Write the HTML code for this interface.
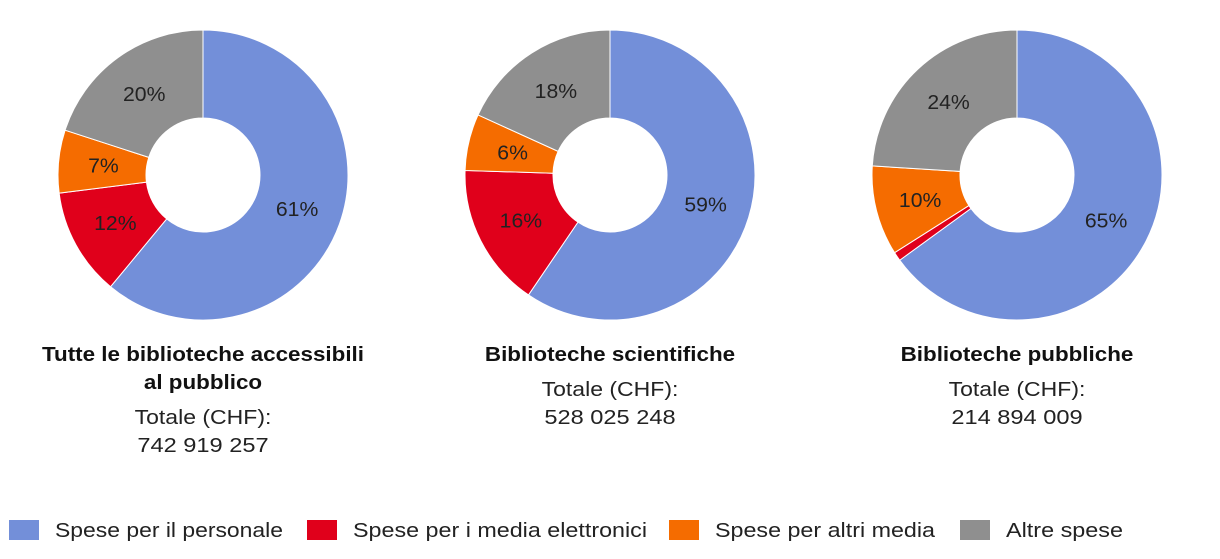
<!DOCTYPE html>
<html><head><meta charset="utf-8">
<style>
body{margin:0;width:1220px;height:554px;background:#fff;overflow:hidden;font-family:"Liberation Sans",sans-serif;}
svg text{font-family:"Liberation Sans",sans-serif;}
</style></head>
<body>
<svg id="chart" width="1220" height="554" xmlns="http://www.w3.org/2000/svg"></svg>
<script>
const categories = ["Spese per il personale","Spese per i media elettronici","Spese per altri media","Altre spese"];
const colors = ["#738fd9","#e0001b","#f56c00","#8f8f8f"];
const seriesAll = [61,12,7,20];
const seriesSci = [59.5,16,6.3,18.2];
const seriesPub = [65,1,10,24];
const labelsAll = ["61%","12%","7%","20%"];
const labelsSci = ["59%","16%","6%","18%"];
const labelsPub = ["65%","","10%","24%"];
const titles = [["Tutte le biblioteche accessibili","al pubblico"],["Biblioteche scientifiche"],["Biblioteche pubbliche"]];
const totals = ["742 919 257","528 025 248","214 894 009"];

const NS="http://www.w3.org/2000/svg";
const svg=document.getElementById('chart');
function mk(t,a){const e=document.createElementNS(NS,t);for(const k in a)e.setAttribute(k,a[k]);svg.appendChild(e);return e;}
function widen(t,f){const w=t.getComputedTextLength();t.setAttribute('textLength',w*f);t.setAttribute('lengthAdjust','spacingAndGlyphs');}
const centersX=[203,610,1017], cy=175, R=145, r=57, LR=100;
function pt(cx,ang,rad){return [cx+rad*Math.sin(ang), cy-rad*Math.cos(ang)];}
const allSeries=[seriesAll,seriesSci,seriesPub], allLabels=[labelsAll,labelsSci,labelsPub];
allSeries.forEach((vals,ci)=>{
  const cx=centersX[ci]; const tot=vals.reduce((a,b)=>a+b,0);
  let a0=0;
  vals.forEach((v,i)=>{
    const a1=a0+v/tot*2*Math.PI; const large=(a1-a0)>Math.PI?1:0;
    const [x0,y0]=pt(cx,a0,R),[x1,y1]=pt(cx,a1,R),[x2,y2]=pt(cx,a1,r),[x3,y3]=pt(cx,a0,r);
    const p=mk('path',{d:`M${x0},${y0}A${R},${R} 0 ${large} 1 ${x1},${y1}L${x2},${y2}A${r},${r} 0 ${large} 0 ${x3},${y3}Z`,fill:colors[i],stroke:'#fff','stroke-width':1});
    
    
    const lab=allLabels[ci][i];
    if(lab){const [lx,ly]=pt(cx,(a0+a1)/2,LR);
      const t=mk('text',{x:lx,y:ly+7,'text-anchor':'middle','font-size':20,fill:'#222'});t.textContent=lab;
      
      widen(t,1.06);}
    a0=a1;
  });
  let y=361;
  titles[ci].forEach(line=>{const t=mk('text',{x:cx,y:y,'text-anchor':'middle','font-size':20,'font-weight':'bold',fill:'#111'});t.textContent=line;
    
    widen(t,1.12);y+=28;});
  y+=7;
  const t1=mk('text',{x:cx,y:y,'text-anchor':'middle','font-size':20,fill:'#222'});t1.textContent="Totale (CHF):";
  
  widen(t1,1.15);
  const t2=mk('text',{x:cx,y:y+28,'text-anchor':'middle','font-size':20,fill:'#222'});t2.textContent=totals[ci];
  
  widen(t2,1.18);
});
const legX=[9,307,669,960];
const legTextW=[228,294,220,117];
categories.forEach((c,i)=>{
  const s=mk('rect',{x:legX[i],y:520,width:30,height:20,fill:colors[i]});
  
  
  const t=mk('text',{x:legX[i]+46,y:537,'font-size':20,fill:'#222',textLength:legTextW[i],lengthAdjust:'spacingAndGlyphs'});t.textContent=c;
  
  
});
</script>
</body></html>
